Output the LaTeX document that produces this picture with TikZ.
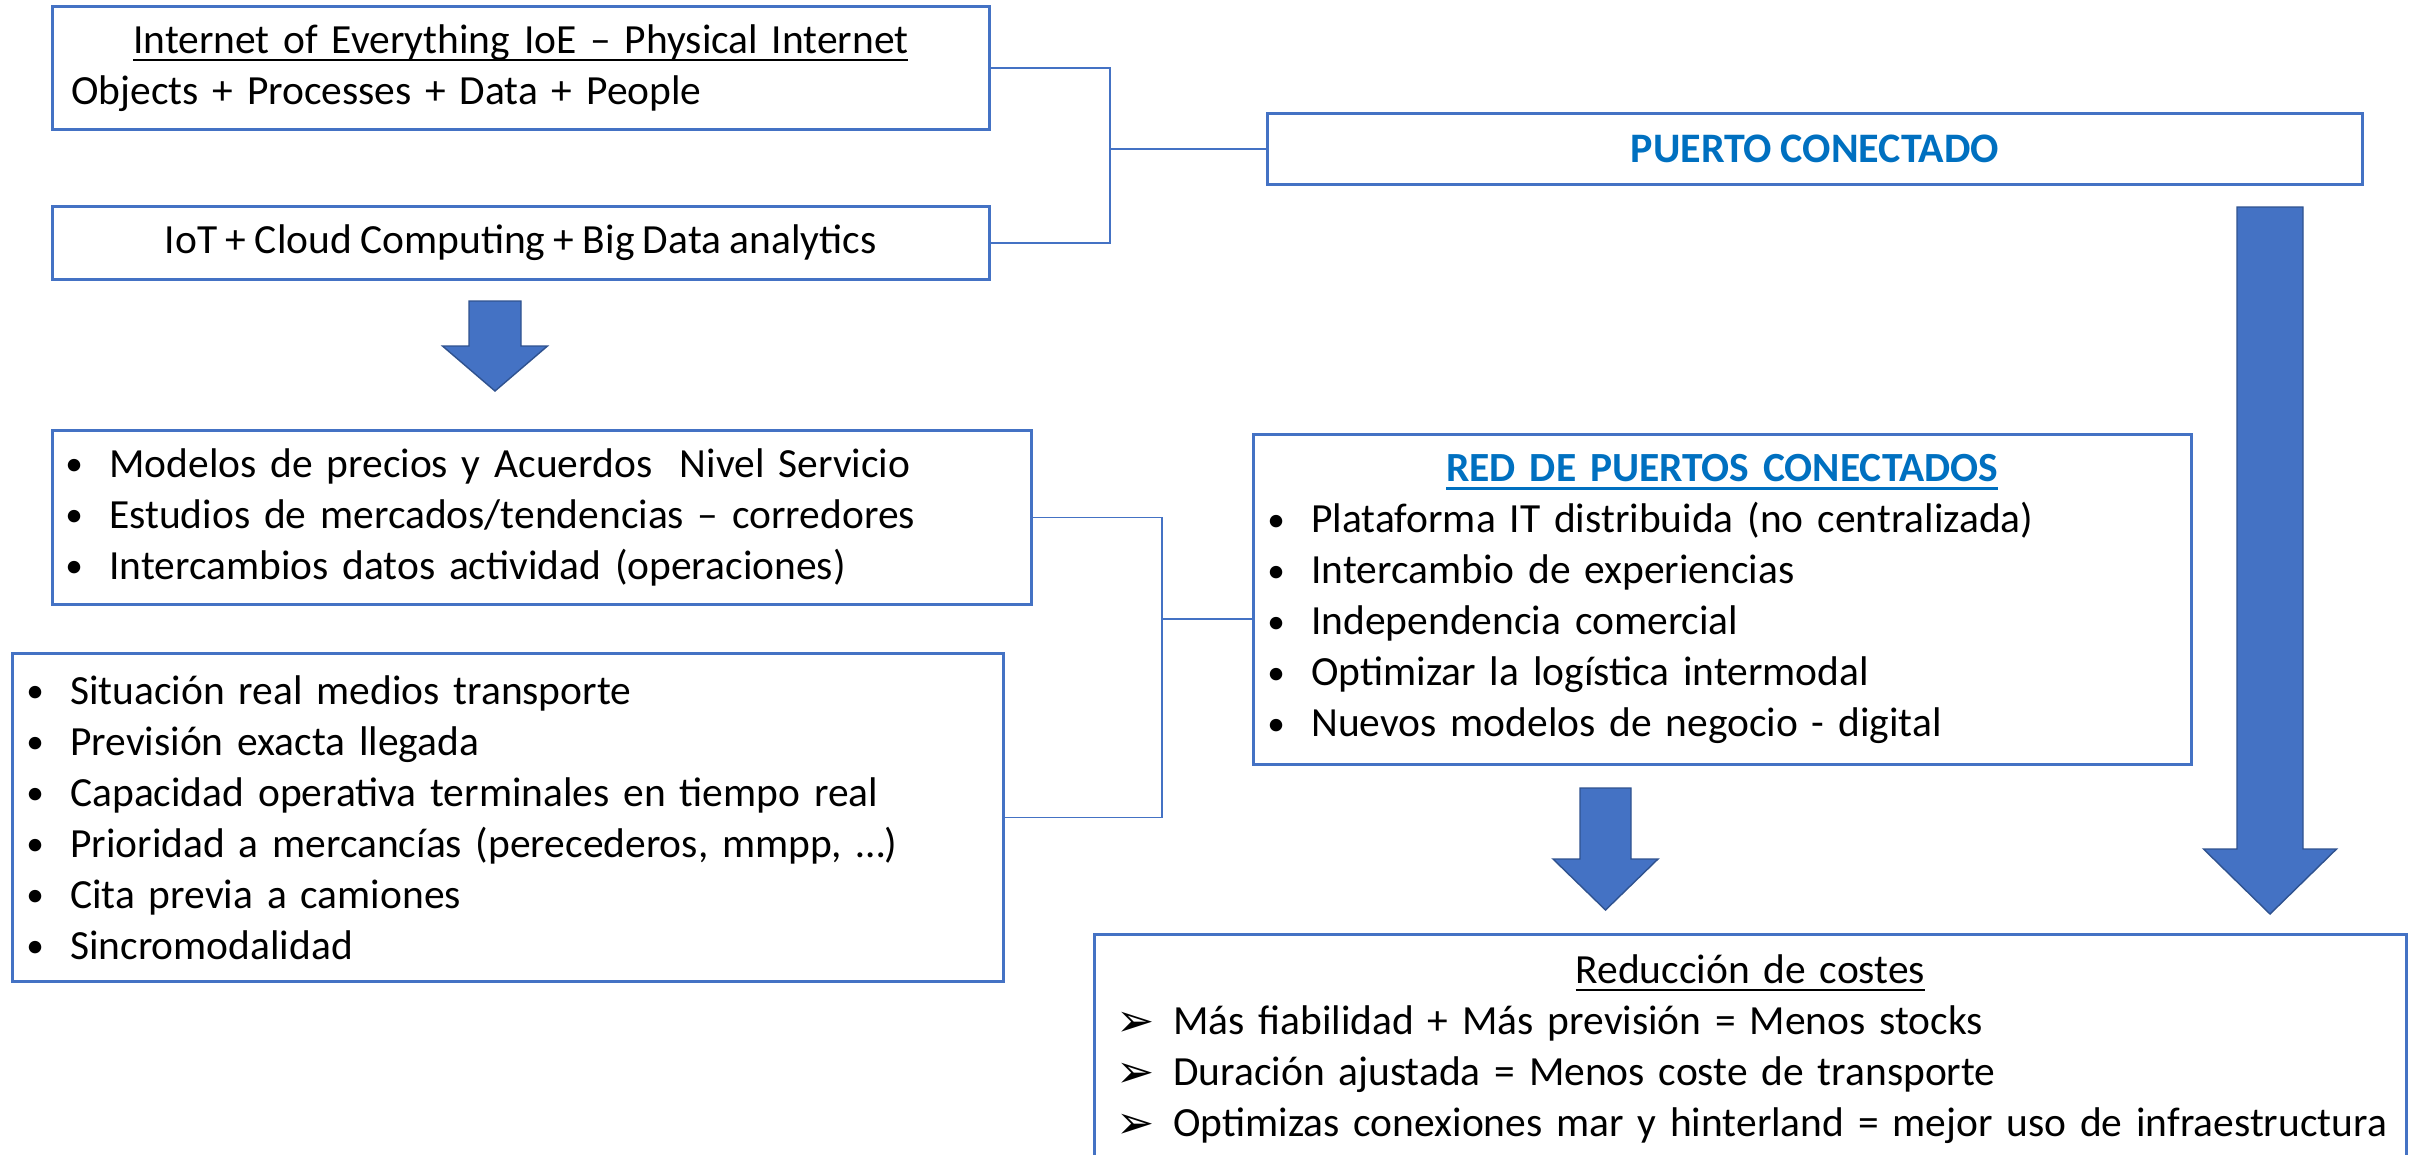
\documentclass[tikz,border=0pt]{standalone}
\usepackage{fontspec}
\usepackage{graphicx}
\setmainfont{Carlito}[WordSpace=0.9]
\newfontfamily\dejavu{DejaVu Sans}
\definecolor{boxblue}{HTML}{4472C4}
\definecolor{arrowedge}{HTML}{2F528F}
\definecolor{titleblue}{HTML}{0070C0}
\newcommand\undl[1]{\leavevmode\setbox0\hbox{#1}\rlap{\vrule width\wd0 height -1.6pt depth 2.2pt}\box0}
\newcommand\bul{\makebox[0.32cm][l]{\hspace{-0.12cm}\raisebox{0.04em}{\scalebox{0.85}{•}}}}
\newcommand\chevr{\makebox[0.57cm][l]{\raisebox{-0.05em}{\dejavu\fontsize{13}{13}\selectfont ➢}}}
\newcommand\dnarrow[6]{\draw[bigarrow] (#1-#5,#2) -- (#1+#5,#2) -- (#1+#5,#3) -- (#1+#6,#3) -- (#1,#4) -- (#1-#6,#3) -- (#1-#5,#3) -- cycle;}
\begin{document}
\begin{tikzpicture}[
  box/.style={draw=boxblue, line width=0.75pt, anchor=north west, inner ysep=0pt,
              font=\fontsize{11.8}{14.52}\selectfont, align=left},
  link/.style={draw=boxblue, line width=0.4pt},
  bigarrow/.style={fill=boxblue, draw=arrowedge, line width=0.4pt, line join=miter}
]
\useasboundingbox (0,0) rectangle (24.17,-11.54);
\clip (0,0) rectangle (24.17,-11.54);

\node[box, inner xsep=0.19cm, text width=8.99cm, minimum height=1.23cm] (ioe) at (0.51,-0.05)
  {\makebox[8.99cm][c]{\undl{Internet of Everything IoE – Physical Internet}}\\
   Objects + Processes + Data + People};

\node[box, minimum width=9.37cm, minimum height=0.73cm, align=center] (iot) at (0.51,-2.05)
  {IoT + Cloud Computing + Big Data analytics};

\node[box, minimum width=10.95cm, minimum height=0.71cm, align=center, text=titleblue,
      font=\fontsize{11.95}{14.52}\selectfont\bfseries] (puerto) at (12.66,-1.12)
  {PUERTO CONECTADO};

\node[box, inner xsep=0.25cm, text width=9.29cm, minimum height=1.74cm] (precios) at (0.51,-4.29)
  {\bul Modelos de precios y Acuerdos\ \ Nivel Servicio\\
   \bul Estudios de mercados/tendencias – corredores\\
   \bul Intercambios datos actividad (operaciones)};

\node[box, inner xsep=0.26cm, text width=9.39cm, minimum height=3.28cm] (situacion) at (0.11,-6.52)
  {\bul Situación real medios transporte\\
   \bul Previsión exacta llegada\\
   \bul Capacidad operativa terminales en tiempo real\\
   \bul Prioridad a mercancías (perecederos, mmpp, …)\\
   \bul Cita previa a camiones\\
   \bul Sincromodalidad};

\node[box, inner xsep=0.26cm, text width=8.86cm, minimum height=3.30cm] (red) at (12.52,-4.33)
  {\makebox[8.86cm][c]{\bfseries\color{titleblue}\undl{RED DE PUERTOS CONECTADOS}}\\
   \bul Plataforma IT distribuida (no centralizada)\\
   \bul Intercambio de experiencias\\
   \bul Independencia comercial\\
   \bul Optimizar la logística intermodal\\
   \bul Nuevos modelos de negocio - digital};

\node[box, inner xsep=0.22cm, text width=12.68cm, minimum height=2.29cm] (costes) at (10.93,-9.33)
  {\makebox[12.68cm][c]{\undl{Reducción de costes}}\\
   \mbox{\chevr Más fiabilidad + Más previsión = Menos stocks}\\
   \mbox{\chevr Duración ajustada = Menos coste de transporte}\\
   \mbox{\chevr Optimizas conexiones mar y hinterland = mejor uso de infraestructura}};

% connectors
\coordinate (j1) at (11.10,-1.48);
\draw[link] (ioe.east) -| (j1) |- (iot.east);
\draw[link] (puerto.west) -- (puerto.west -| j1);

\coordinate (j2) at (11.62,-6.19);
\draw[link] (precios.east) -| (j2) |- (situacion.east);
\draw[link] (j2) -- (j2 -| red.west);

% block arrows
\dnarrow{4.95}{-3.01}{-3.46}{-3.91}{0.26}{0.525}
\dnarrow{16.055}{-7.88}{-8.59}{-9.10}{0.255}{0.525}
\dnarrow{22.70}{-2.07}{-8.49}{-9.14}{0.33}{0.665}
\end{tikzpicture}
\end{document}
